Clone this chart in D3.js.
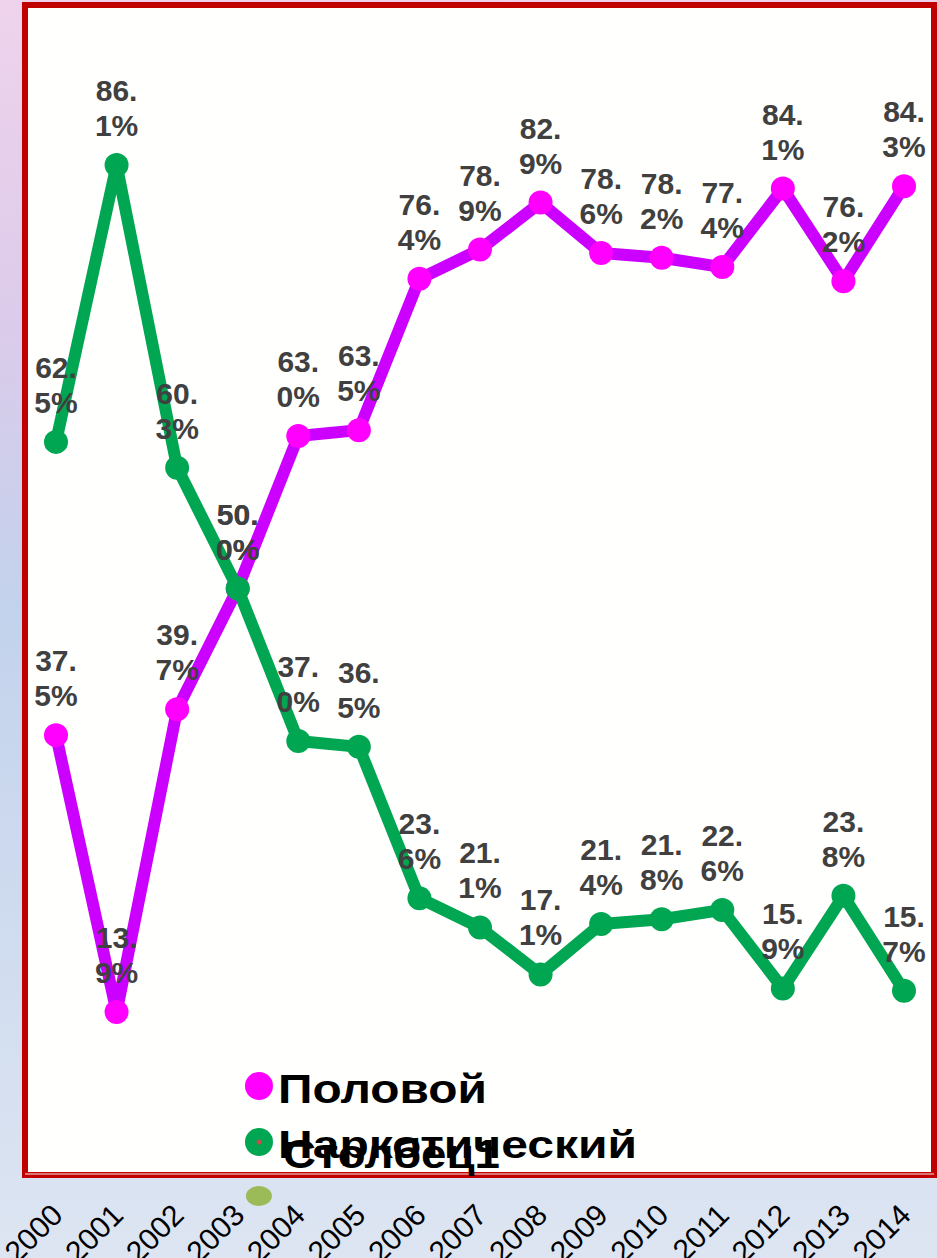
<!DOCTYPE html>
<html>
<head>
<meta charset="utf-8">
<script src="https://cdn.jsdelivr.net/npm/d3@7"></script>
<style>
  body { margin: 0; padding: 0; }
  svg { display: block; }
</style>
</head>
<body>
<svg id="chart"></svg>
<script>
// Data
const years = ["2000", "2001", "2002", "2003", "2004", "2005", "2006", "2007",
  "2008", "2009", "2010", "2011", "2012", "2013", "2014"];
const polovoy = [37.5, 13.9, 39.7, 50.0, 63.0, 63.5, 76.4, 78.9, 82.9, 78.6, 78.2, 77.4, 84.1, 76.2, 84.3];
const narkot = [62.5, 86.1, 60.3, 50.0, 37.0, 36.5, 23.6, 21.1, 17.1, 21.4, 21.8, 22.6, 15.9, 23.8, 15.7];
const seriesNames = ["Половой", "Наркотический", "Столбец1"];

const W = 937, H = 1258;
const frame = {left: 25, top: 5, right: 934, bottom: 1175};

const svg = d3.select("#chart")
  .attr("width", W)
  .attr("height", H);

// Background gradient
const defs = svg.append("defs");
const grad = defs.append("linearGradient")
  .attr("id", "bg")
  .attr("x1", 0).attr("y1", 0).attr("x2", 0).attr("y2", 1);
grad.append("stop").attr("offset", "0%").attr("stop-color", "#efd3ec");
grad.append("stop").attr("offset", "25%").attr("stop-color", "#dccbea");
grad.append("stop").attr("offset", "48%").attr("stop-color", "#c3d2ec");
grad.append("stop").attr("offset", "75%").attr("stop-color", "#d0dcef");
grad.append("stop").attr("offset", "100%").attr("stop-color", "#dde5f2");

svg.append("rect")
  .attr("width", W).attr("height", H)
  .attr("fill", "url(#bg)");

// Chart frame
svg.append("rect")
  .attr("x", frame.left).attr("y", frame.top)
  .attr("width", frame.right - frame.left)
  .attr("height", frame.bottom - frame.top)
  .attr("fill", "#fffffe")
  .attr("stroke", "#c00000")
  .attr("stroke-width", 6);
svg.append("line")
  .attr("x1", frame.left).attr("x2", frame.right)
  .attr("y1", frame.bottom - 1).attr("y2", frame.bottom - 1)
  .attr("stroke", "#e89a9a")
  .attr("stroke-width", 1.5);

// Scales
const x = d3.scalePoint()
  .domain(years)
  .range([56, 904]);
const y = d3.scaleLinear()
  .domain([0, 100])
  .range([1175, 2]);

const fmt = d3.format(".1f");

function drawSeries(values, lineColor, dotColor) {
  const pts = years.map((yr, i) => ({yr, v: values[i]}));
  const line = d3.line()
    .x(d => x(d.yr))
    .y(d => y(d.v));
  svg.append("path")
    .datum(pts)
    .attr("d", line)
    .attr("fill", "none")
    .attr("stroke", lineColor)
    .attr("stroke-width", 12)
    .attr("stroke-linejoin", "round");
  svg.append("g")
    .selectAll("circle")
    .data(pts)
    .join("circle")
    .attr("cx", d => x(d.yr))
    .attr("cy", d => y(d.v))
    .attr("r", 12)
    .attr("fill", dotColor);
  return pts;
}

const p1 = drawSeries(polovoy, "#cc00ff", "#ff00ff");
const p2 = drawSeries(narkot, "#00a651", "#00a651");

// Data labels, split in two lines like the original
const labels = svg.append("g")
  .attr("font-family", "'Liberation Sans', Arial, sans-serif")
  .attr("font-size", 30)
  .attr("font-weight", "bold")
  .attr("fill", "#404040")
  .attr("text-anchor", "middle");

p1.concat(p2).forEach(d => {
  const s = fmt(d.v).split(".");
  const t = labels.append("text")
    .attr("x", x(d.yr))
    .attr("y", y(d.v) - 64);
  t.append("tspan").attr("x", x(d.yr)).text(s[0] + ".");
  t.append("tspan").attr("x", x(d.yr)).attr("dy", 35).text(s[1] + "%");
});

// Legend
const legend = svg.append("g")
  .attr("font-family", "'Liberation Sans', Arial, sans-serif")
  .attr("font-weight", "bold")
  .attr("fill", "#000");

legend.append("circle").attr("cx", 259).attr("cy", 1086).attr("r", 14).attr("fill", "#ff00ff");
legend.append("text").attr("x", 278).attr("y", 1103)
  .attr("font-size", 40)
  .attr("textLength", 209).attr("lengthAdjust", "spacingAndGlyphs")
  .text(seriesNames[0]);

legend.append("circle").attr("cx", 259).attr("cy", 1142).attr("r", 14).attr("fill", "#00a651");
legend.append("circle").attr("cx", 259).attr("cy", 1142).attr("r", 2.5).attr("fill", "#c0504d");
legend.append("text").attr("x", 278).attr("y", 1158)
  .attr("font-size", 39)
  .attr("textLength", 359).attr("lengthAdjust", "spacingAndGlyphs")
  .text(seriesNames[1]);
legend.append("text").attr("x", 283).attr("y", 1168)
  .attr("font-size", 40)
  .attr("textLength", 217).attr("lengthAdjust", "spacingAndGlyphs")
  .text(seriesNames[2]);

// Stray marker of the empty series
svg.append("ellipse")
  .attr("cx", x("2003") + x.step() * 0.35)
  .attr("cy", 1196)
  .attr("rx", 13).attr("ry", 10)
  .attr("fill", "#9bbb59");

// X axis labels (rotated)
const xAxis = svg.append("g")
  .attr("transform", "translate(0,1217)")
  .call(d3.axisBottom(x).tickSize(0).tickPadding(0));
xAxis.select(".domain").remove();
xAxis.selectAll("text")
  .attr("font-family", "'Liberation Sans', Arial, sans-serif")
  .attr("font-size", 30)
  .attr("fill", "#000")
  .attr("dy", 0)
  .attr("y", 0)
  .attr("text-anchor", "end")
  .attr("transform", "translate(8,0)rotate(-45)");
</script>
</body>
</html>
